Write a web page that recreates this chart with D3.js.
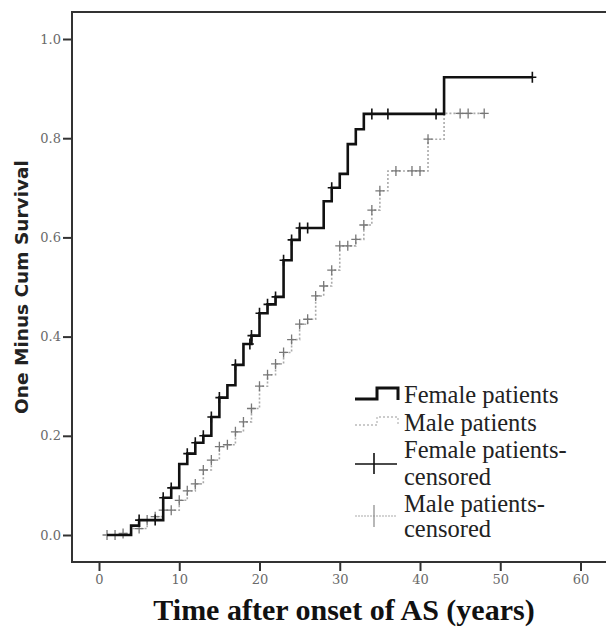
<!DOCTYPE html>
<html>
<head>
<meta charset="utf-8">
<script src="https://cdn.jsdelivr.net/npm/d3@7"></script>
<style>
  body { margin: 0; background: #fff; }
  svg { display: block; }
  .tick text { font-family: "DejaVu Serif", serif; font-size: 13px; fill: #6a6a6a; }
  .legend text { font-family: "Liberation Serif", "Times New Roman", serif; font-size: 24.5px; fill: #222; }
</style>
</head>
<body>
<svg width="606" height="630"></svg>
<script>
/* Kaplan-Meier steps */
var femaleTime  = [1, 4, 5, 8, 9, 10, 11, 12, 13, 14, 15, 16, 17, 18, 19, 20, 21, 22, 23, 24, 25, 28, 29, 30, 31, 32, 33, 43, 54];
var femaleValue = [0, 0.019, 0.03, 0.075, 0.095, 0.143, 0.164, 0.186, 0.2, 0.238, 0.277, 0.302, 0.343, 0.385, 0.402, 0.447, 0.465, 0.48, 0.554, 0.595, 0.619, 0.673, 0.7, 0.728, 0.788, 0.818, 0.849, 0.923, 0.923];
var femaleCensor = [5, 7, 8, 9, 11, 12, 13, 14, 15, 17, 18.8, 19, 20, 21, 22, 23, 24, 25, 26, 29, 34, 36, 42, 54];

var maleTime  = [1, 3, 4, 6, 7, 8, 10, 11, 12, 13, 14, 15, 16, 17, 18, 19, 20, 21, 22, 23, 24, 25, 26, 27, 28, 29, 30, 32, 33, 34, 35, 36, 41, 43, 48];
var maleValue = [0, 0.003, 0.013, 0.03, 0.037, 0.05, 0.07, 0.089, 0.103, 0.131, 0.151, 0.178, 0.182, 0.208, 0.228, 0.255, 0.30, 0.323, 0.345, 0.368, 0.394, 0.425, 0.435, 0.482, 0.502, 0.534, 0.583, 0.596, 0.625, 0.655, 0.694, 0.734, 0.798, 0.85, 0.85];
var maleCensor = [1, 2, 3, 5, 6, 7, 8, 9, 10, 11, 12, 13, 14, 15, 16, 17, 18, 19, 20, 21, 22, 23, 24, 25, 26, 27, 28, 29, 30, 31, 32, 33, 34, 35, 37, 39, 40, 41, 45, 46, 48];

var xTicks = [0, 10, 20, 30, 40, 50, 60];
var yTicks = [0, 0.2, 0.4, 0.6, 0.8, 1.0];
var legendLabels = [["Female patients"], ["Male patients"], ["Female patients-", "censored"], ["Male patients-", "censored"]];

var svg = d3.select("svg");

var x = d3.scaleLinear().domain([0, 60]).range([99, 580.5]);
var y = d3.scaleLinear().domain([0, 1]).range([535, 39]);

var frameLeft = 72, frameTop = 12, frameBottom = 562, frameRight = 606;

// step value at time t
function stepAt(times, values, t) {
    var i = d3.bisectRight(times, t) - 1;
    return values[Math.max(0, i)];
}

/* frame (right side runs off the picture) */
svg.append("path")
    .attr("d", "M" + frameRight + "," + frameTop + "H" + frameLeft + "V" + frameBottom + "H" + frameRight)
    .attr("fill", "none")
    .attr("stroke", "#333")
    .attr("stroke-width", 2);

/* axes */
var yAxis = svg.append("g")
    .attr("transform", "translate(" + frameLeft + ",0)")
    .call(d3.axisLeft(y).tickValues(yTicks).tickFormat(d3.format(".1f")).tickSize(9).tickPadding(2));
var xAxis = svg.append("g")
    .attr("transform", "translate(0," + frameBottom + ")")
    .call(d3.axisBottom(x).tickValues(xTicks).tickFormat(d3.format("d")).tickSize(9).tickPadding(4));
[xAxis, yAxis].forEach(function (a) {
    a.select(".domain").remove();
    a.selectAll(".tick line").attr("stroke", "#333").attr("stroke-width", 2);
});

/* curves */
var line = d3.line()
    .x(function (d) { return x(d[0]); })
    .y(function (d) { return y(d[1]); })
    .curve(d3.curveStepAfter);

var maleData = d3.zip(maleTime, maleValue);
var femaleData = d3.zip(femaleTime, femaleValue);

svg.append("path")
    .attr("d", line(maleData))
    .attr("fill", "none")
    .attr("stroke", "#aaa")
    .attr("stroke-width", 1.6)
    .attr("stroke-dasharray", "2,2");

svg.selectAll(".mcen")
    .data(maleCensor)
    .enter().append("path")
    .attr("class", "mcen")
    .attr("d", function (t) {
        var cx = x(t), cy = y(stepAt(maleTime, maleValue, t));
        return "M" + (cx - 4.5) + "," + cy + "h9M" + cx + "," + (cy - 5) + "v10";
    })
    .attr("stroke", "#777")
    .attr("stroke-width", 1.3);

svg.append("path")
    .attr("d", line(femaleData))
    .attr("fill", "none")
    .attr("stroke", "#111")
    .attr("stroke-width", 2.6);

svg.selectAll(".fcen")
    .data(femaleCensor)
    .enter().append("path")
    .attr("class", "fcen")
    .attr("d", function (t) {
        var cx = x(t), cy = y(stepAt(femaleTime, femaleValue, t));
        return "M" + (cx - 4) + "," + cy + "h8M" + cx + "," + (cy - 5.5) + "v11";
    })
    .attr("stroke", "#111")
    .attr("stroke-width", 1.6);

/* axis titles */
svg.append("text")
    .attr("transform", "translate(28,287)rotate(-90)")
    .attr("text-anchor", "middle")
    .style("font-family", "'DejaVu Sans', sans-serif")
    .style("font-weight", "bold")
    .style("font-size", "18.5px")
    .style("fill", "#222")
    .text("One Minus Cum Survival");

svg.append("text")
    .attr("x", 344)
    .attr("y", 620)
    .attr("text-anchor", "middle")
    .style("font-family", "'Liberation Serif', 'Times New Roman', serif")
    .style("font-weight", "bold")
    .style("font-size", "30px")
    .style("fill", "#111")
    .text("Time after onset of AS (years)");

/* legend */
var legend = svg.append("g").attr("class", "legend");
legend.append("path")
    .attr("d", "M355,399H377V388H398V400")
    .attr("fill", "none").attr("stroke", "#111").attr("stroke-width", 3);
legend.append("path")
    .attr("d", "M355,425H377V417H398V426")
    .attr("fill", "none").attr("stroke", "#bbb").attr("stroke-width", 1.3).attr("stroke-dasharray", "2,2");
legend.append("path")
    .attr("d", "M355,464H397M374,453V474")
    .attr("stroke", "#111").attr("stroke-width", 1.6);
legend.append("path")
    .attr("d", "M355,516H396")
    .attr("stroke", "#aaa").attr("stroke-width", 1.2).attr("stroke-dasharray", "2,1");
legend.append("path")
    .attr("d", "M374,505V527")
    .attr("stroke", "#888").attr("stroke-width", 1.2);

var baselines = [[403], [431], [458, 485], [512, 537]];
legendLabels.forEach(function (lines, i) {
    lines.forEach(function (s, j) {
        legend.append("text")
            .attr("x", 404)
            .attr("y", baselines[i][j])
            .text(s);
    });
});
</script>
</body>
</html>
